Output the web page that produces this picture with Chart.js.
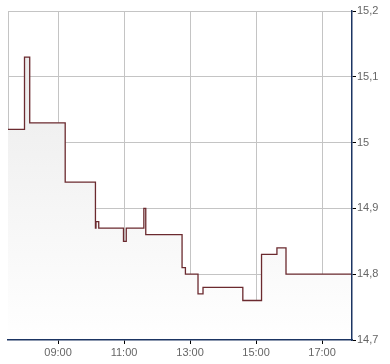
<!DOCTYPE html>
<html>
<head>
<meta charset="utf-8">
<script src="https://cdn.jsdelivr.net/npm/chart.js@4.4.1/dist/chart.umd.min.js"></script>
<style>
  html, body { margin: 0; padding: 0; background: #fff; }
  #wrap { width: 390px; height: 364px; }
</style>
</head>
<body>
<div id="wrap"><canvas id="priceChart"></canvas></div>
<script>
// minutes since midnight where the price changed
const times = [449, 479, 488.5, 553, 608, 609, 614, 659, 664, 696, 699.5, 765.5, 771.6, 794.5, 803.6, 876, 910, 938, 954.5, 1074.5];
const prices = [15.02, 15.13, 15.03, 14.94, 14.87, 14.88, 14.87, 14.85, 14.87, 14.90, 14.86, 14.81, 14.80, 14.77, 14.78, 14.76, 14.83, 14.84, 14.80, 14.80];

const xTicks = [449, 540, 660, 780, 900, 1020];
const yTicks = [14.7, 14.8, 14.9, 15.0, 15.1, 15.2];

const lineColor = '#6b2a2f';
const axisColor = '#1c3563';
const gridColor = '#c4c4c4';

const fmtTime = (m) => {
  const h = Math.floor(m / 60), mm = Math.round(m % 60);
  return String(h).padStart(2, '0') + ':' + String(mm).padStart(2, '0');
};

const ctx = document.getElementById('priceChart');

new Chart(ctx, {
  type: 'line',
  data: {
    datasets: [{
      data: times.map((t, i) => ({ x: t, y: prices[i] })),
      stepped: 'before',
      borderColor: lineColor,
      borderWidth: 1.3,
      pointRadius: 0,
      fill: 'start',
      backgroundColor: (c) => {
        const area = c.chart.chartArea;
        if (!area) return '#f0f0f0';
        const g = c.chart.ctx.createLinearGradient(0, area.top, 0, area.bottom);
        g.addColorStop(0, '#e8e8e8');
        g.addColorStop(1, '#ffffff');
        return g;
      }
    }]
  },
  options: {
    responsive: true,
    maintainAspectRatio: false,
    animation: false,
    layout: { padding: { left: 8, top: 11, right: 0, bottom: 0 } },
    plugins: { legend: { display: false }, tooltip: { enabled: false } },
    scales: {
      x: {
        type: 'linear',
        min: 449,
        max: 1074.5,
        afterBuildTicks: (s) => { s.ticks = xTicks.map(v => ({ value: v })); },
        afterFit: (s) => { s.height = 24; },
        grid: {
          color: gridColor,
          tickLength: 4,
          tickColor: (c) => c.index === 0 ? 'rgba(0,0,0,0)' : '#000'
        },
        border: { color: axisColor, width: 1.5, z: 1 },
        ticks: {
          padding: 2,
          maxRotation: 0,
          autoSkip: false,
          color: '#666',
          font: { family: 'Liberation Sans, Arial', size: 11 },
          callback: (v, i) => i === 0 ? '' : fmtTime(v)
        }
      },
      y: {
        position: 'right',
        min: 14.7,
        max: 15.2,
        afterBuildTicks: (s) => { s.ticks = yTicks.map(v => ({ value: v })); },
        afterFit: (s) => { s.width = 38; },
        grid: {
          color: (c) => c.index === 0 ? 'rgba(0,0,0,0)' : gridColor,
          tickLength: 4,
          tickColor: '#000'
        },
        border: { color: axisColor, width: 1.5, z: 1 },
        ticks: {
          padding: 1,
          color: '#666',
          font: { family: 'Liberation Sans, Arial', size: 11 },
          callback: (v) => String(Math.round(v * 10) / 10).replace('.', ',')
        }
      }
    }
  }
});
</script>
</body>
</html>
